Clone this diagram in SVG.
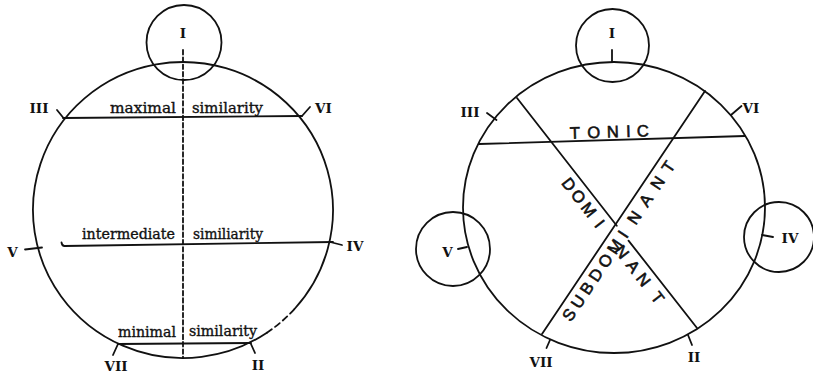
<svg xmlns="http://www.w3.org/2000/svg" width="813" height="372" viewBox="0 0 813 372">
<style>
.ln{fill:none;stroke:#111;stroke-width:1.8;stroke-linecap:round}
.rn{font-family:"DejaVu Serif","Liberation Serif",serif;font-weight:bold;font-size:13.5px;fill:#111;text-anchor:middle}
.lc{font-family:"DejaVu Serif","Liberation Serif",serif;font-size:14px;fill:#111;stroke:#111;stroke-width:0.35}
.cap{font-family:"Liberation Sans","DejaVu Sans",sans-serif;font-size:16.5px;fill:#111;stroke:#111;stroke-width:0.6;text-anchor:middle}
</style>
<rect width="813" height="372" fill="#fff"/>
<g id="left-diagram">
  <g id="left-outer">
    <path class="ln" d="M 294.5 309 A 150 148 0 1 0 266.9 332.7"/>
    <path class="ln" d="M 266.9 332.7 A 150 148 0 0 0 294.5 309" stroke-dasharray="6 4"/>
  </g>
  <g id="left-I">
    <circle class="ln" cx="184" cy="42.5" r="37.5"/>
    <text class="rn" x="183" y="38">I</text>
  </g>
  <g id="left-axis">
    <line class="ln" x1="183" y1="50" x2="183" y2="358" stroke-dasharray="4.5 2.8" stroke-linecap="butt"/>
  </g>
  <g id="left-maximal">
    <line class="ln" x1="63" y1="118" x2="302" y2="116"/>
    <line class="ln" x1="57" y1="110" x2="63.5" y2="118"/>
    <line class="ln" x1="302" y1="116" x2="310" y2="107"/>
    <text class="rn" x="39" y="113">III</text>
    <text class="rn" x="323.5" y="113">VI</text>
    <text class="lc" x="110" y="112.5" textLength="66" lengthAdjust="spacingAndGlyphs">maximal</text>
    <text class="lc" x="192" y="112.5" textLength="71" lengthAdjust="spacingAndGlyphs">similarity</text>
  </g>
  <g id="left-intermediate">
    <path class="ln" d="M 61.5 242.5 Q 62 246 64.5 246 L 333 242"/>
    <line class="ln" x1="25" y1="249.5" x2="42" y2="247.5"/>
    <line class="ln" x1="330" y1="242" x2="342" y2="245"/>
    <text class="rn" x="12.5" y="257">V</text>
    <text class="rn" x="355" y="251">IV</text>
    <text class="lc" x="82" y="239" textLength="93" lengthAdjust="spacingAndGlyphs">intermediate</text>
    <text class="lc" x="193" y="238.5" textLength="70" lengthAdjust="spacingAndGlyphs">similiarity</text>
  </g>
  <g id="left-minimal">
    <line class="ln" x1="118" y1="344" x2="251" y2="343"/>
    <line class="ln" x1="118" y1="344" x2="113" y2="355"/>
    <line class="ln" x1="250.5" y1="343" x2="255" y2="353"/>
    <text class="rn" x="116" y="370.5">VII</text>
    <text class="rn" x="258" y="370">II</text>
    <text class="lc" x="118" y="336.5" textLength="58" lengthAdjust="spacingAndGlyphs">minimal</text>
    <text class="lc" x="189" y="336" textLength="68" lengthAdjust="spacingAndGlyphs">similarity</text>
  </g>
</g>
<g id="right-diagram">
  <g id="right-outer">
    <ellipse class="ln" cx="614" cy="207.5" rx="151" ry="145.5"/>
  </g>
  <g id="right-I">
    <circle class="ln" cx="612.5" cy="45.5" r="36.5"/>
    <line class="ln" x1="612" y1="50" x2="612" y2="62"/>
    <text class="rn" x="612" y="38">I</text>
  </g>
  <g id="right-V">
    <circle class="ln" cx="453" cy="249" r="37"/>
    <line class="ln" x1="458" y1="249" x2="467" y2="247"/>
    <text class="rn" x="447.5" y="257">V</text>
  </g>
  <g id="right-IV">
    <circle class="ln" cx="779" cy="237" r="35"/>
    <line class="ln" x1="762" y1="235" x2="773" y2="237"/>
    <text class="rn" x="790" y="243">IV</text>
  </g>
  <g id="right-III">
    <line class="ln" x1="487" y1="113" x2="496.5" y2="120"/>
    <text class="rn" x="470" y="117">III</text>
  </g>
  <g id="right-VI">
    <line class="ln" x1="731" y1="115" x2="741.5" y2="106"/>
    <text class="rn" x="751" y="113">VI</text>
  </g>
  <g id="right-VII">
    <line class="ln" x1="550" y1="340" x2="546.5" y2="348"/>
    <text class="rn" x="541" y="367">VII</text>
  </g>
  <g id="right-II">
    <line class="ln" x1="688" y1="335" x2="692" y2="345"/>
    <text class="rn" x="694" y="362">II</text>
  </g>
  <g id="tonic">
    <line class="ln" x1="479" y1="144" x2="745" y2="136"/>
    <text class="cap" transform="rotate(-1.7 609 137)" x="575 594 613 628.5 643" y="137.5">TONIC</text>
  </g>
  <g id="dominant">
    <path class="ln" d="M 517 98 L 616.8 225.7 M 628.5 240.6 L 697 328"/>
    <text class="cap" transform="translate(517 98) rotate(51.95)" x="100 115.5 132 150 186 204 221 244" y="18">DOMINANT</text>
  </g>
  <g id="subdominant">
    <line class="ln" x1="542" y1="334" x2="705" y2="91"/>
    <text class="cap" transform="translate(542 334) rotate(-56.15)" x="31 47 63 79 96 113 128 148 169 190 209" y="17.5">SUBDOMINANT</text>
  </g>
</g>
</svg>
